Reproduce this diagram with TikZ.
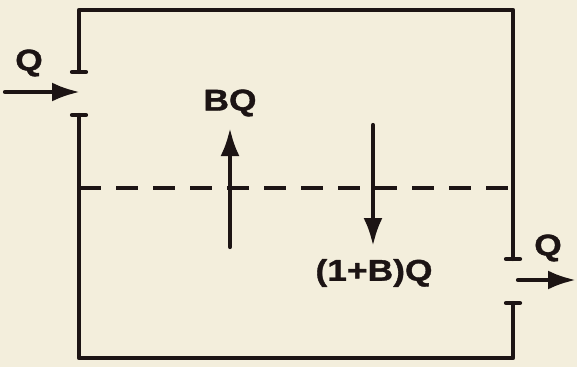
\documentclass[tikz,border=0pt]{standalone}
\usepackage{fontspec}
\setmainfont[FakeStretch=1.18,FakeBold=1.2]{Liberation Sans}
\usetikzlibrary{arrows.meta}
\definecolor{paper}{RGB}{243,238,220}
\definecolor{ink}{RGB}{28,20,20}
\begin{document}
\begin{tikzpicture}[x=1pt, y=-1pt, line width=4.2pt, line join=round, line cap=round, >={Latex[length=28pt,width=19pt]}, font=\bfseries\fontsize{30}{30}\selectfont, color=ink]
		\fill[paper] (0,0) rectangle (577,367);
		\useasboundingbox (0,0) rectangle (577,367);
		\path
		(79,72) coordinate (L1)
		(79,115) coordinate (L2)
		(513,259) coordinate (R1)
		(513,303) coordinate (R2)
		(79,188) coordinate (D1)
		(513,188) coordinate (D2)
		(5,92) coordinate (inA)   (80,92) coordinate (inB)
		(518,280) coordinate (outA) (576,280) coordinate (outB)
		(230,247) coordinate (upA)  (230,128) coordinate (upB)
		(373,125) coordinate (dnA)  (373,246) coordinate (dnB)
		;
		% tank walls
		\draw (L1) -- (79,10) -- (513,10) -- (R1);
		\draw (L2) -- (79,358) -- (513,358) -- (R2);
		\foreach \p in {L1,L2,R1,R2}
		\draw ([xshift=-7pt]\p) -- ([xshift=7pt]\p);
		\draw[line cap=butt, dash pattern=on 22pt off 15pt] (D1) -- (D2);
		% flows
		\draw[->] (inA) -- (inB);
		\draw[->] (outA) -- (outB);
		\draw[->] (upA) -- (upB);
		\draw[->] (dnA) -- (dnB);
		\node[inner sep=0] (qin) at (29,63) {Q};
		\node[inner sep=0] (qout) at (548,248) {Q};
		\node[inner sep=0] (bq) at (230,103) {BQ};
		\node[inner sep=0] (bbq) at (374,273) {(1+B)Q};
	\end{tikzpicture}
\end{document}
